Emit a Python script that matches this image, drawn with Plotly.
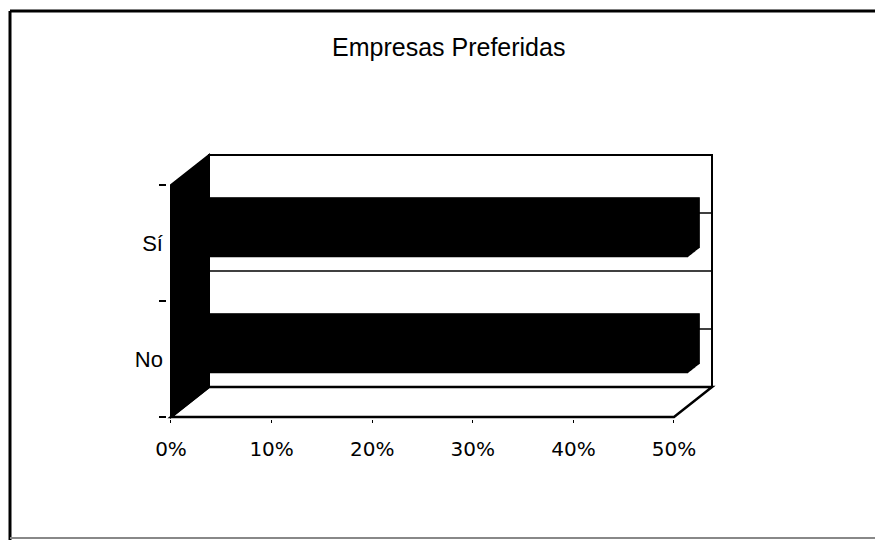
import plotly.graph_objects as go

# ---- data ----
categories = ["No", "Sí"]
values = [50, 50]          # percent
x_tickvals = [0, 10, 20, 30, 40, 50]
x_ticktext = ["0%", "10%", "20%", "30%", "40%", "50%"]
title_text = "Empresas Preferidas"

# ---- layout geometry (pixels in the 883x540 window; page body has an 8px margin) ----
OFF = 8
W, H = 883 - OFF, 540 - OFF
X0_PX, X50_PX = 171 - OFF, 674 - OFF      # front plane 0% and 50%
YB_PX, YT_PX = 417 - OFF, 185 - OFF       # front plane category boundaries -0.5 and 1.5
PX_PER_PCT = (X50_PX - X0_PX) / 50.0
PX_PER_CAT = (YB_PX - YT_PX) / 2.0
DEPTH_DX_PX, DEPTH_DY_PX = 38, 30
DX = DEPTH_DX_PX / PX_PER_PCT     # depth shift in % units
DY = DEPTH_DY_PX / PX_PER_CAT     # depth shift in category units

xmax = max(x_tickvals)
x_range = [-0.4, xmax + DX + 0.4]
y_range = [-0.5 - 2 / PX_PER_CAT, 1.5 + DY + 0.04]

xl = X0_PX + x_range[0] * PX_PER_PCT
xr = X0_PX + x_range[1] * PX_PER_PCT
yb = YB_PX - (y_range[0] + 0.5) * PX_PER_CAT
yt = YB_PX - (y_range[1] + 0.5) * PX_PER_CAT

fig = go.Figure()

# 3D bars: stacked slices between the front face and the back face
T_FRONT, T_BACK = 0.37, 0.68
BAR_W = 0.436
N = 18
for i in range(N):
    t = T_BACK - (T_BACK - T_FRONT) * i / (N - 1)
    fig.add_trace(go.Bar(
        orientation="h",
        y=categories,
        x=values,
        base=[t * DX] * len(values),
        offset=-BAR_W / 2 + t * DY,
        width=BAR_W,
        marker=dict(color="black", line=dict(width=0)),
        showlegend=False,
        hoverinfo="skip",
    ))

shapes = []
# back wall
shapes.append(dict(type="rect", xref="x", yref="y", layer="below",
                   x0=DX, x1=xmax + DX, y0=-0.5 + DY, y1=1.5 + DY,
                   fillcolor="white", line=dict(color="black", width=2)))
# back-wall gridlines (category boundary and centers)
for yv in [0, 0.5, 1]:
    shapes.append(dict(type="line", xref="x", yref="y", layer="below",
                       x0=DX, x1=xmax + DX, y0=yv + DY, y1=yv + DY,
                       line=dict(color="black", width=1.5)))
# floor
shapes.append(dict(type="path", xref="x", yref="y", layer="below",
                   path=f"M 0 -0.5 L {xmax} -0.5 L {xmax + DX} {-0.5 + DY} L {DX} {-0.5 + DY} Z",
                   fillcolor="white", line=dict(color="black", width=2.5)))
# side wall (black)
shapes.append(dict(type="path", xref="x", yref="y", layer="below",
                   path=f"M 0 -0.5 L 0 1.5 L {DX} {1.5 + DY} L {DX} {-0.5 + DY} Z",
                   fillcolor="black", line=dict(color="black", width=2)))
# outer frame
fx0 = (10 - OFF) / W
fy_top = 1 - (11 - OFF) / H
fy_bot = 1 - (538 - OFF) / H
shapes.append(dict(type="line", xref="paper", yref="paper", x0=fx0, x1=fx0, y0=fy_top, y1=-0.05,
                   line=dict(color="black", width=3)))
shapes.append(dict(type="line", xref="paper", yref="paper", x0=fx0, x1=1.05, y0=fy_top, y1=fy_top,
                   line=dict(color="black", width=3)))
shapes.append(dict(type="line", xref="paper", yref="paper", x0=fx0, x1=1.05, y0=fy_bot, y1=fy_bot,
                   line=dict(color="#888888", width=2)))

fig.update_layout(
    width=W, height=H,
    margin=dict(l=0, r=0, t=0, b=0, autoexpand=False),
    paper_bgcolor="white", plot_bgcolor="white",
    barmode="overlay",
    showlegend=False,
    shapes=shapes,
    xaxis=dict(domain=[xl / W, xr / W], range=x_range, automargin=False,
               tickvals=x_tickvals, ticktext=x_ticktext,
               showgrid=False, zeroline=False, showline=False,
               ticks="outside", ticklen=3, tickcolor="black", tickwidth=1,
               ticklabelstandoff=9,
               tickfont=dict(family="DejaVu Sans", size=20, color="black")),
    yaxis=dict(domain=[1 - yb / H, 1 - yt / H], range=y_range, automargin=False,
               type="category", categoryorder="array", categoryarray=categories,
               tickson="boundaries", ticks="outside", ticklen=7, tickcolor="black", tickwidth=1.5,
               showgrid=False, zeroline=False, showline=False,
               ticklabelstandoff=3,
               tickfont=dict(family="Liberation Sans", size=22, color="black")),
    annotations=[dict(text=title_text, xref="paper", yref="paper",
                      x=(448 - OFF) / W, y=1 - (47 - OFF) / H, xanchor="center", yanchor="middle",
                      showarrow=False,
                      font=dict(family="Liberation Sans", size=25, color="black"))],
)

fig.write_html("out.html")
